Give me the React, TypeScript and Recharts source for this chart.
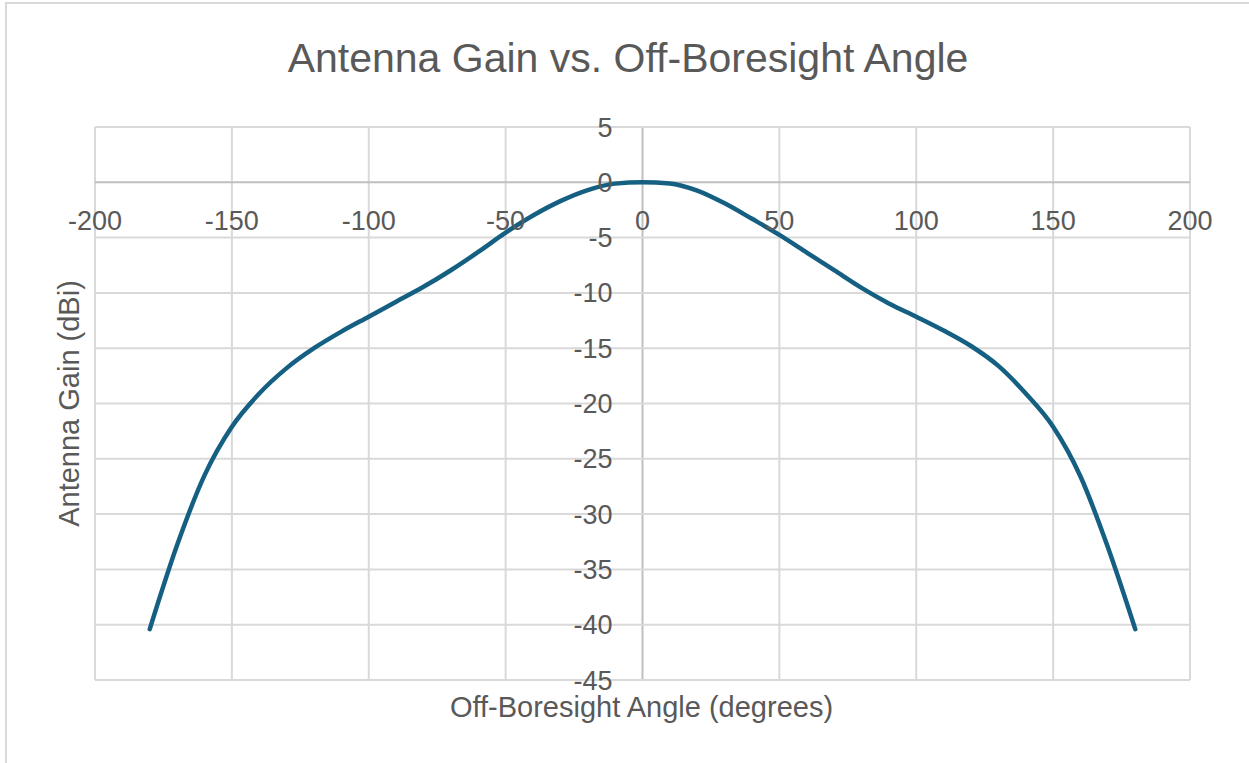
import React from 'react';
import {
  LineChart,
  Line,
  XAxis,
  YAxis,
  ReferenceLine,
  ReferenceDot,
} from 'recharts';

const angles = [
  -180, -170, -160, -150, -140, -130, -120, -110, -100, -90, -80, -70, -60, -50, -40, -30, -20, -10,
  0, 10, 20, 30, 40, 50, 60, 70, 80, 90, 100, 110, 120, 130, 140, 150, 160, 170, 180,
];
const gains = [
  -40.4, -32.8, -26.5, -22.1, -19.1, -16.8, -15.0, -13.5, -12.15, -10.8, -9.45, -7.95, -6.3, -4.55, -3.0, -1.7, -0.7, -0.12,
  0, -0.1, -0.75, -1.9, -3.3, -4.75, -6.35, -7.95, -9.55, -10.95, -12.15, -13.4, -14.8, -16.6, -19.1, -22.1, -26.6, -33.0, -40.4,
];
const xTicks = [-200, -150, -100, -50, 0, 50, 100, 150, 200];
const yTicks = [5, 0, -5, -10, -15, -20, -25, -30, -35, -40, -45];

const title = 'Antenna Gain vs. Off-Boresight Angle';
const xTitle = 'Off-Boresight Angle (degrees)';
const yTitle = 'Antenna Gain (dBi)';

const data = angles.map((a, i) => ({ angle: a, gain: gains[i] }));

const FONT = '"Liberation Sans", Arial, sans-serif';
const TEXT = '#595959';
const GRID = '#d9d9d9';
const AXIS = '#bfbfbf';

export default function App() {
  return (
    <div
      style={{
        position: 'absolute',
        left: 0,
        top: 0,
        width: 1249,
        height: 763,
        background: '#ffffff',
        overflow: 'hidden',
      }}
    >
      <div
        style={{
          position: 'absolute',
          left: 5,
          top: 2,
          right: 0,
          bottom: 0,
          borderLeft: `2px solid ${GRID}`,
          borderTop: `2px solid ${GRID}`,
        }}
      />
      <div style={{ position: 'absolute', left: 0, top: 0 }}>
        <LineChart
          width={1249}
          height={763}
          data={data}
          margin={{ top: 127, right: 59, bottom: 83, left: 95 }}
        >
          <XAxis
            type="number"
            dataKey="angle"
            domain={[-200, 200]}
            ticks={xTicks}
            tick={false}
            axisLine={false}
            tickLine={false}
            height={0}
            allowDataOverflow
          />
          <YAxis
            type="number"
            domain={[-45, 5]}
            ticks={yTicks}
            tick={false}
            axisLine={false}
            tickLine={false}
            width={0}
            allowDataOverflow
          />
          {xTicks.map((t) => (
            <ReferenceLine key={`gx${t}`} x={t} stroke={t === 0 ? AXIS : GRID} strokeWidth={2} />
          ))}
          {yTicks.map((t) => (
            <ReferenceLine key={`gy${t}`} y={t} stroke={t === 0 ? AXIS : GRID} strokeWidth={2} />
          ))}
          <Line
            type="monotone"
            dataKey="gain"
            stroke="#156082"
            strokeWidth={4.5}
            strokeLinecap="round"
            strokeLinejoin="round"
            dot={false}
            activeDot={false}
            isAnimationActive={false}
          />
          {xTicks.map((t) => (
            <ReferenceDot
              key={`x${t}`}
              x={t}
              y={0}
              r={0}
              fill="none"
              stroke="none"
              label={{
                value: String(t),
                position: 'bottom',
                offset: 29,
                fill: TEXT,
                fontSize: 27,
                fontFamily: FONT,
              }}
            />
          ))}
          {yTicks.map((t) => (
            <ReferenceDot
              key={`y${t}`}
              x={0}
              y={t}
              r={0}
              fill="none"
              stroke="none"
              label={{
                value: String(t),
                position: 'left',
                offset: 30,
                fill: TEXT,
                fontSize: 27,
                fontFamily: FONT,
              }}
            />
          ))}
        </LineChart>
      </div>
      <svg
        width={1249}
        height={763}
        style={{ position: 'absolute', left: 0, top: 0, pointerEvents: 'none' }}
      >
        <text x={628} y={71.5} textAnchor="middle" fill={TEXT} fontSize={41} fontFamily={FONT}>
          {title}
        </text>
        <text x={641.5} y={716.5} textAnchor="middle" fill={TEXT} fontSize={29} fontFamily={FONT}>
          {xTitle}
        </text>
        <text
          x={79}
          y={403.5}
          textAnchor="middle"
          fill={TEXT}
          fontSize={29}
          fontFamily={FONT}
          transform="rotate(-90, 79, 403.5)"
        >
          {yTitle}
        </text>
      </svg>
    </div>
  );
}
